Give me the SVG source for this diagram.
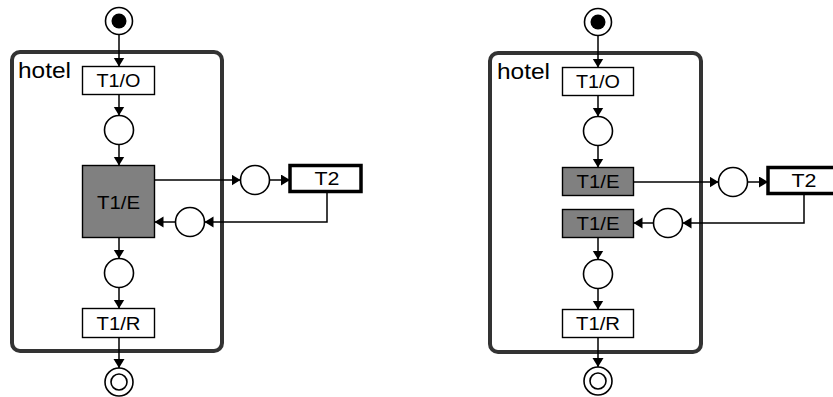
<svg xmlns="http://www.w3.org/2000/svg" width="833" height="397" viewBox="0 0 833 397">
<style>
.hotel{fill:none;stroke:#333;stroke-width:4}
.tr{fill:#fff;stroke:#000;stroke-width:1.4}
.trg{fill:#808080;stroke:#000;stroke-width:1.4}
.t2{fill:#fff;stroke:#000;stroke-width:3.5}
.pl{fill:#fff;stroke:#000;stroke-width:1.6}
.tok{fill:#000}
.lbl{font-family:"Liberation Sans",Arial,sans-serif;font-size:18px;fill:#000;text-anchor:middle}
.ht{font-family:"Liberation Sans",Arial,sans-serif;font-size:22px;fill:#000}
.ar{fill:none;stroke:#000;stroke-width:1.5;marker-end:url(#ah)}
</style>
<defs>
<marker id="ah" markerUnits="userSpaceOnUse" markerWidth="10" markerHeight="12" refX="9" refY="5.5" orient="auto">
<path d="M0,0 L9,5.5 L0,11 z" fill="#000"/>
</marker>
</defs>
<rect width="833" height="397" fill="#fff"/>

<!-- LEFT -->
<g id="L-hotel"><rect class="hotel" x="12" y="52" width="210" height="299" rx="8"/><text class="ht" x="18" y="78" textLength="53" lengthAdjust="spacingAndGlyphs">hotel</text></g>
<g id="L-start"><circle class="pl" cx="119" cy="21" r="13.5"/><circle class="tok" cx="119" cy="21" r="7.5"/></g>
<g id="L-T1O"><rect class="tr" x="82.5" y="66.5" width="72" height="28"/><text class="lbl" x="118.5" y="87" textLength="44" lengthAdjust="spacingAndGlyphs">T1/O</text></g>
<g id="L-p1"><circle class="pl" cx="119" cy="130" r="14.5"/></g>
<g id="L-T1E"><rect class="trg" x="82.5" y="165.5" width="72" height="72"/><text class="lbl" x="118.5" y="208.5" textLength="43" lengthAdjust="spacingAndGlyphs">T1/E</text></g>
<g id="L-p2"><circle class="pl" cx="255" cy="180" r="14.5"/></g>
<g id="L-T2"><rect class="t2" x="290" y="165.5" width="71" height="26"/><text class="lbl" x="327" y="185" textLength="25" lengthAdjust="spacingAndGlyphs">T2</text></g>
<g id="L-p3"><circle class="pl" cx="190" cy="222" r="14.5"/></g>
<g id="L-p4"><circle class="pl" cx="119" cy="273" r="14.5"/></g>
<g id="L-T1R"><rect class="tr" x="82.5" y="308.5" width="72" height="29"/><text class="lbl" x="118.5" y="329.5" textLength="44" lengthAdjust="spacingAndGlyphs">T1/R</text></g>
<g id="L-end"><circle class="pl" cx="119" cy="382" r="14"/><circle class="pl" cx="119" cy="382" r="8"/></g>

<!-- RIGHT -->
<g id="R-hotel"><rect class="hotel" x="490" y="53" width="211" height="299" rx="8"/><text class="ht" x="497" y="79" textLength="53" lengthAdjust="spacingAndGlyphs">hotel</text></g>
<g id="R-start"><circle class="pl" cx="598" cy="22" r="13.5"/><circle class="tok" cx="598" cy="22" r="7.5"/></g>
<g id="R-T1O"><rect class="tr" x="562.5" y="67.5" width="71" height="28"/><text class="lbl" x="598" y="88" textLength="44" lengthAdjust="spacingAndGlyphs">T1/O</text></g>
<g id="R-p1"><circle class="pl" cx="598" cy="131" r="14.5"/></g>
<g id="R-T1Ea"><rect class="trg" x="562.5" y="167.5" width="71" height="28"/><text class="lbl" x="598" y="188" textLength="43" lengthAdjust="spacingAndGlyphs">T1/E</text></g>
<g id="R-p2"><circle class="pl" cx="733" cy="182" r="14.5"/></g>
<g id="R-T2"><rect class="t2" x="768" y="167.5" width="71" height="26"/><text class="lbl" x="804" y="187" textLength="25" lengthAdjust="spacingAndGlyphs">T2</text></g>
<g id="R-p3"><circle class="pl" cx="668" cy="223" r="14.5"/></g>
<g id="R-T1Eb"><rect class="trg" x="562.5" y="209.5" width="71" height="28"/><text class="lbl" x="598" y="230" textLength="43" lengthAdjust="spacingAndGlyphs">T1/E</text></g>
<g id="R-p4"><circle class="pl" cx="598" cy="274" r="14.5"/></g>
<g id="R-T1R"><rect class="tr" x="562.5" y="309.5" width="71" height="28"/><text class="lbl" x="598" y="330" textLength="44" lengthAdjust="spacingAndGlyphs">T1/R</text></g>
<g id="R-end"><circle class="pl" cx="598" cy="381" r="14"/><circle class="pl" cx="598" cy="381" r="8"/></g>

<g id="connectors">
<path class="ar" d="M119,34.5 V66.5"/>
<path class="ar" d="M119,94.5 V115.5"/>
<path class="ar" d="M119,144.5 V165.5"/>
<path class="ar" d="M154.5,180 H240.5"/>
<path class="ar" d="M269.5,180 H290"/>
<path class="ar" d="M327,191.5 V222 H204.5"/>
<path class="ar" d="M175.5,222 H154.5"/>
<path class="ar" d="M119,237.5 V258.5"/>
<path class="ar" d="M119,287.5 V308.5"/>
<path class="ar" d="M119,337.5 V368"/>

<path class="ar" d="M598,35.5 V67.5"/>
<path class="ar" d="M598,95.5 V116.5"/>
<path class="ar" d="M598,145.5 V167.5"/>
<path class="ar" d="M633.5,182 H718.5"/>
<path class="ar" d="M747.5,182 H768"/>
<path class="ar" d="M804,193.5 V223 H682.5"/>
<path class="ar" d="M653.5,223 H633.5"/>
<path class="ar" d="M598,237.5 V259.5"/>
<path class="ar" d="M598,288.5 V309.5"/>
<path class="ar" d="M598,337.5 V367"/>
</g>
</svg>
